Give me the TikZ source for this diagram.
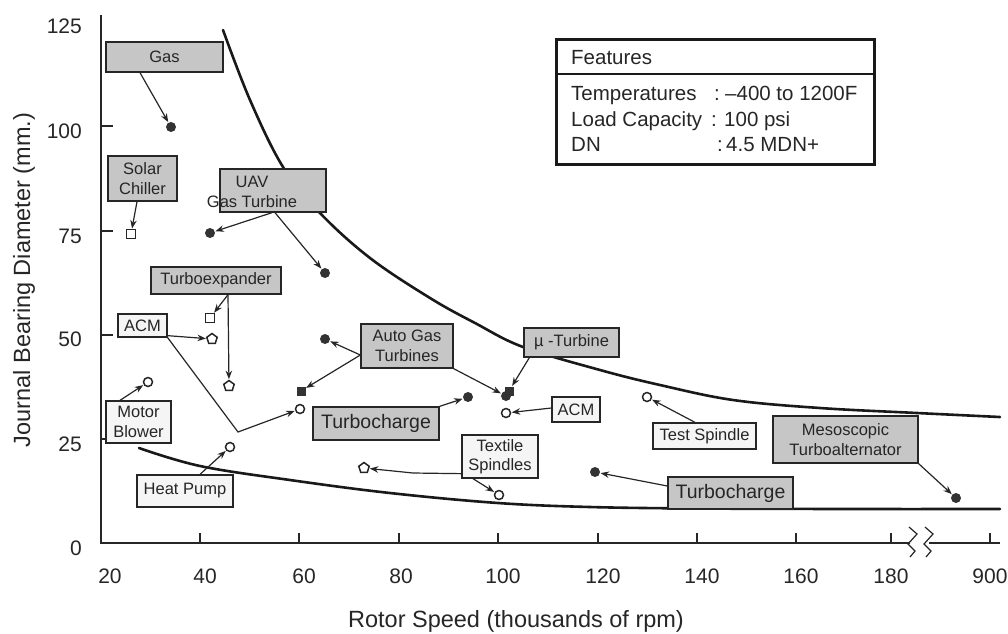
\documentclass[tikz,border=0pt]{standalone}
\usepackage{fontspec}
\setmainfont{Liberation Sans}
\usetikzlibrary{arrows.meta,shapes.geometric}
\newcommand\lblfont{\fontsize{16.5}{19.5}\selectfont}
\newcommand\tcfont{\fontsize{19.5}{23}\selectfont}
\newcommand\tickfont{\fontsize{21}{25}\selectfont}
\newcommand\ftfont{\fontsize{20.5}{25}\selectfont}
\newcommand\axtfont{\fontsize{23.5}{28}\selectfont}
\begin{document}
\begin{tikzpicture}[x=1pt,y=-1pt,
  curve/.style={line width=2.6pt, black!90, line cap=round},
  axisline/.style={line width=2pt, black!85},
  tickline/.style={line width=1.5pt, black!85},
  gbox/.style={draw=black!85, line width=1.3pt, fill=gray!45, inner sep=0pt, font=\lblfont, text=black!85, align=center},
  lbox/.style={gbox, fill=black!4},
  tcbox/.style={gbox, font=\tcfont},
  fdot/.style={circle, fill=black!80, inner sep=0pt, minimum size=10pt},
  odot/.style={circle, draw=black!85, line width=1.5pt, fill=white, inner sep=0pt, minimum size=9pt},
  osq/.style={rectangle, draw=black!85, line width=1.4pt, fill=white, inner sep=0pt, minimum size=8.5pt},
  fsq/.style={rectangle, fill=black!80, inner sep=0pt, minimum size=9pt},
  ohouse/.style={regular polygon, regular polygon sides=5, draw=black!85, line width=1.5pt, fill=white, inner sep=0pt, minimum size=11pt},
  ptr/.style={-{Stealth[length=8.5pt,width=6.5pt]}, line width=1.2pt, black!85, shorten >=0.5pt},
  tlabel/.style={font=\tickfont, text=black!85, inner sep=0pt},
  ftext/.style={font=\ftfont, text=black!85, inner sep=0pt, anchor=base west}
]
\useasboundingbox (0,0) rectangle (1008,633);

% envelope curves
\draw[curve] plot[smooth, tension=0.6] coordinates {(223,30) (250,100) (283,167) (320,213) (370,258) (430,298) (475,323) (523,347) (600,370) (660,385) (733,400) (820,408) (917,413) (1000,417)};
\draw[curve] plot[smooth, tension=0.6] coordinates {(139,448) (200,466) (290,480) (390,493) (498,503) (590,507) (700,508.5) (850,509) (1000,509)};

% axes
\draw[axisline] (101,15) -- (101,543) -- (910,543);
\draw[axisline] (929,543) -- (1000,543);
\draw[line width=1.2pt, black!85] (909,527) -- (917,534) -- (908,544) -- (915,551) -- (910,557);
\draw[line width=1.2pt, black!85] (925,527) -- (933,534) -- (924,544) -- (931,551) -- (926,557);
\foreach \x in {200,299,399,498,598,697,796,891,990} \draw[tickline] (\x,543) -- (\x,533);
\foreach \y in {126,231,335,439} \draw[tickline] (101,\y) -- (113,\y);

% tick labels
\foreach \v/\b in {125/33,100/138,75/243,50/346,25/451,0/555}
  \node[tlabel, anchor=base east] (yl\v) at (82,\b) {\v};
\foreach \v/\x in {20/110,40/205,60/304,80/401,100/503,120/603,140/702,160/801,180/891,900/990}
  \node[tlabel, anchor=base] (xl\v) at (\x,583) {\v};

% axis titles
\node[font=\axtfont, text=black!85, inner sep=0pt, anchor=base] (xtitle) at (516,627) {Rotor Speed (thousands of rpm)};
\node[font=\axtfont, text=black!85, inner sep=0pt, anchor=base, rotate=90] (ytitle) at (30,280) {Journal Bearing Diameter (mm.)};

% features box
\node[draw=black!90, line width=2.5pt, minimum width=318pt, minimum height=125pt, inner sep=0pt, anchor=north west] (feat) at (555,38) {};
\draw[line width=2.5pt, black!90] ([yshift=-36pt]feat.north west) -- ([yshift=-36pt]feat.north east);
\node[ftext] (fhead) at (571,64) {Features};
\node[ftext] (fk1) at (571,100) {Temperatures};
\node[ftext] (fc1) at (714,100) {:};
\node[ftext] (fv1) at (725,100) {–400 to 1200F};
\node[ftext] (fk2) at (571,126) {Load Capacity};
\node[ftext] (fc2) at (711,126) {:};
\node[ftext] (fv2) at (724,126) {100 psi};
\node[ftext] (fk3) at (571,151) {DN};
\node[ftext] (fc3) at (717,151) {:};
\node[ftext] (fv3) at (726,151) {4.5 MDN+};

% data points
\node[fdot] (pgas) at (171,127) {};
\node[osq] (psolar) at (131,234) {};
\node[fdot] (puav1) at (210,233) {};
\node[fdot] (puav2) at (325,273) {};
\node[osq] (ptx1) at (210,318) {};
\node[ohouse] (ptx2) at (229,386) {};
\node[ohouse] (pacm1) at (212,339) {};
\node[odot] (pacm2) at (300,409) {};
\node[odot] (pmb) at (148,382) {};
\node[odot] (php) at (230,447) {};
\node[fdot] (pag1) at (325,339) {};
\node[fsq] (pag2) at (301,391) {};
\node[fsq] (pmu2) at (509,391) {};
\node[fdot] (pmu) at (506,396) {};
\node[fdot] (ptc1) at (468,397) {};
\node[odot] (pacm3) at (506,413) {};
\node[ohouse] (pts1) at (364,468) {};
\node[odot] (pts2) at (499,495) {};
\node[odot] (ptest) at (647,397) {};
\node[fdot] (ptc2) at (595,472) {};
\node[fdot] (pmeso) at (956,498) {};

% label boxes
\node[gbox, minimum width=117pt, minimum height=30pt] (gas) at (164.5,57) {Gas};
\node[gbox, minimum width=69pt, minimum height=45pt] (solar) at (142.5,178.5) {Solar\\Chiller};
\node[gbox, minimum width=106pt, minimum height=43pt] (uav) at (273,190.5) {};
\node[font=\lblfont, text=black!85, align=center, inner sep=0pt] (uavtxt) at (252,192) {UAV\\Gas Turbine};
\node[gbox, minimum width=130pt, minimum height=27pt] (tx) at (216,280.5) {Turboexpander};
\node[lbox, minimum width=49pt, minimum height=23pt] (acm1) at (142.5,325.5) {ACM};
\node[lbox, minimum width=65pt, minimum height=42pt] (mb) at (138.5,422) {Motor\\Blower};
\node[lbox, minimum width=96pt, minimum height=32pt] (hp) at (185,491) {Heat Pump};
\node[gbox, minimum width=92pt, minimum height=44pt] (agt) at (407,346) {Auto Gas\\Turbines};
\node[tcbox, minimum width=126pt, minimum height=33pt] (tc1) at (376,423.5) {Turbocharge};
\node[gbox, minimum width=95pt, minimum height=29pt] (mu) at (571.5,342.5) {µ -Turbine};
\node[lbox, minimum width=48pt, minimum height=25pt] (acm3) at (576,409.5) {ACM};
\node[lbox, minimum width=76pt, minimum height=43pt] (ts) at (500,456.5) {Textile\\Spindles};
\node[lbox, minimum width=103pt, minimum height=26pt] (test) at (704.5,436) {Test Spindle};
\node[gbox, minimum width=145pt, minimum height=47pt] (meso) at (845.5,439.5) {Mesoscopic\\Turboalternator};
\node[tcbox, minimum width=125pt, minimum height=32pt] (tc2) at (730.5,493) {Turbocharge};

% bends
\coordinate (acmbend) at (238,432);
\coordinate (tsbend) at (413,473);

% connectors
\draw[ptr] ([xshift=-24.5pt]gas.south) -- (pgas);
\draw[ptr] ([xshift=-5.5pt]solar.south) -- (psolar);
\draw[ptr] ([xshift=-1pt]uav.south) -- (puav1);
\draw[ptr] ([xshift=2pt]uav.south) -- (puav2);
\draw[ptr] ([xshift=12pt]tx.south) -- (ptx1);
\draw[ptr] ([xshift=12pt]tx.south) -- (ptx2);
\draw[ptr] ([yshift=2pt]acm1.south east) -- (pacm1);
\draw[ptr] (acm1.south east) -- (acmbend) -- (pacm2);
\draw[ptr] ([xshift=-18.5pt]mb.north) -- (pmb);
\draw[ptr] ([xshift=15pt]hp.north) -- (php);
\draw[ptr] ([yshift=-9pt]agt.west) -- (pag1);
\draw[ptr] ([yshift=-9pt]agt.west) -- (pag2);
\draw[ptr] (agt.south east) -- (pmu);
\draw[ptr] ([xshift=6pt]mu.south west) -- (pmu2);
\draw[ptr] (tc1.north east) -- (ptc1);
\draw[ptr] ([yshift=1.5pt]acm3.west) -- (pacm3);
\draw[ptr] ([yshift=5pt]ts.south west) -- (tsbend) -- (pts1);
\draw[ptr] ([xshift=-27pt]ts.south) -- (pts2);
\draw[ptr] ([xshift=-9.5pt]test.north) -- (ptest);
\draw[ptr] ([yshift=7pt]tc2.west) -- (ptc2);
\draw[ptr] (meso.south east) -- (pmeso);
\end{tikzpicture}
\end{document}
